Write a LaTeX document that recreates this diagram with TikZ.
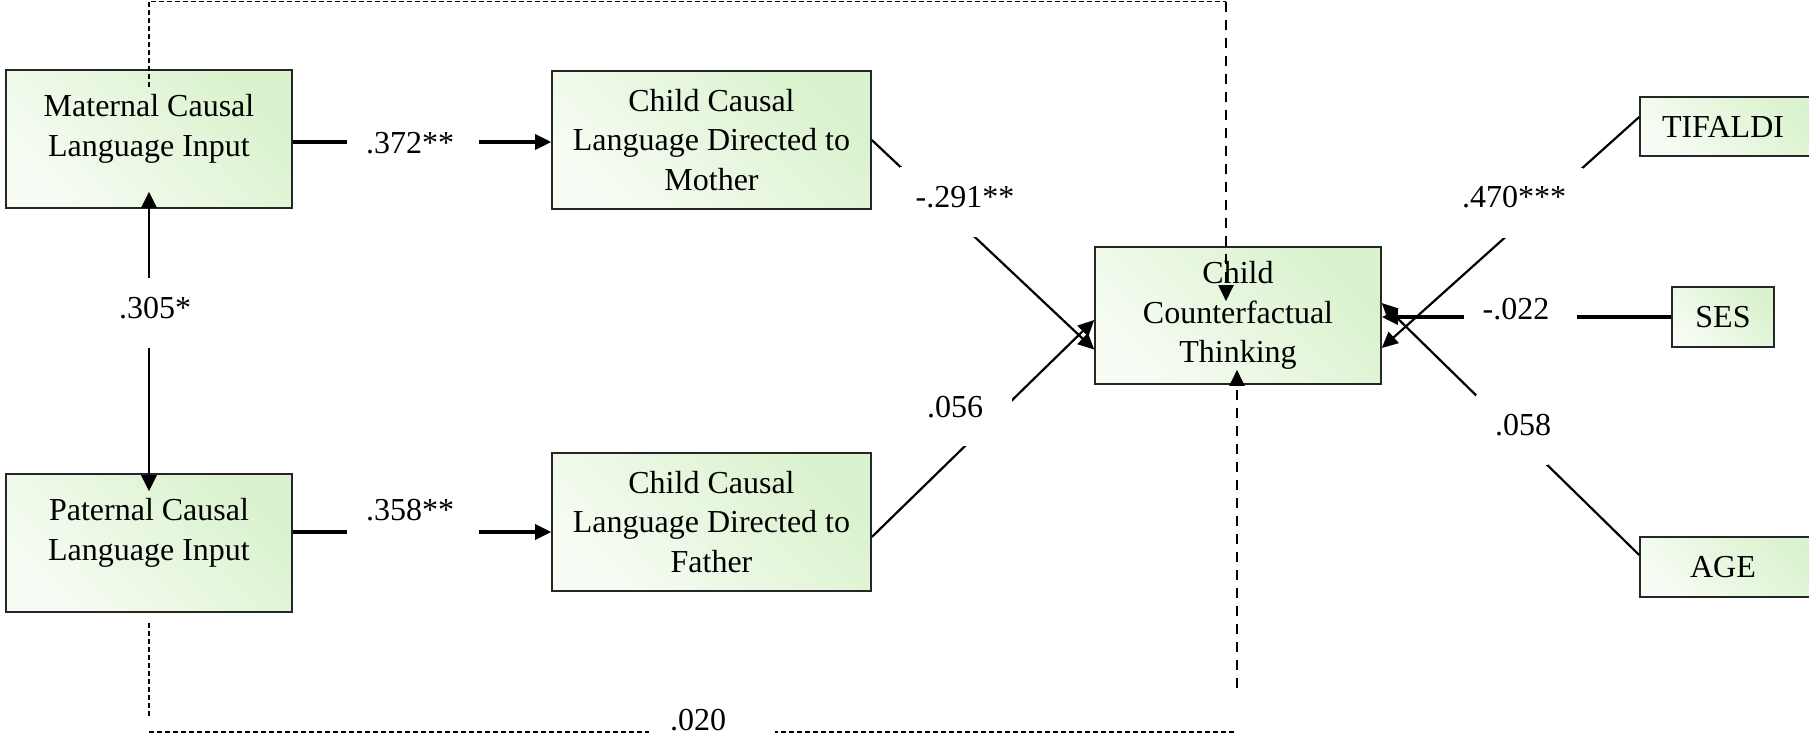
\documentclass[tikz,border=0pt]{standalone}
\usepackage{fontspec}
\setmainfont{Liberation Serif}
\usetikzlibrary{arrows.meta,calc}
\definecolor{gdark}{RGB}{218,242,205}
\definecolor{glight}{RGB}{246,252,243}
\begin{document}
\begin{tikzpicture}[x=0.5pt,y=-0.5pt,
  font=\fontsize{16pt}{19.8pt}\selectfont,
  box/.style={draw=black!85, line width=0.8pt, top color=gdark, bottom color=glight, shading angle=-45, inner sep=0pt, align=center},
  txt/.style={align=center, inner sep=0pt},
  lbl/.style={inner sep=0pt},
  tip/.style={-{Triangle[length=8pt,width=7.5pt]}},
  hconn/.style={tip, line width=1.6pt},
  dconn/.style={tip, line width=1.1pt},
  finedash/.style={line width=0.6pt, dash pattern=on 2.5pt off 1.5pt},
  longdash/.style={line width=1pt, dash pattern=on 5pt off 4pt, -{Triangle[length=8pt,width=7.5pt]}}
]
\useasboundingbox (0,0) rectangle (1809,739);
\clip (0,0) rectangle (1809,739);

% boxes
\node[box, minimum width=143pt, minimum height=69pt] (mat) at (149,139) {};
\node[txt] (matT) at ([yshift=5pt]mat.center) {Maternal Causal\\Language Input};
\node[box, minimum width=143pt, minimum height=69pt] (pat) at (149,543) {};
\node[txt] (patT) at ([yshift=5pt]pat.center) {Paternal Causal\\Language Input};
\node[box, minimum width=159.5pt, minimum height=69pt] (cm) at (711.5,140) {Child Causal\\Language Directed to\\Mother};
\node[box, minimum width=159.5pt, minimum height=69pt] (cfa) at (711.5,522) {Child Causal\\Language Directed to\\Father};
\node[box, minimum width=143pt, minimum height=68.5pt] (cf) at (1238,315.5) {Child\\Counterfactual\\Thinking};
\node[box, minimum width=92pt, minimum height=29.5pt] (tif) at (1732,126.5) {\hspace*{-9pt}TIFALDI};
\node[box, minimum width=51pt, minimum height=30pt] (ses) at (1723,317) {SES};
\node[box, minimum width=92pt, minimum height=30pt] (age) at (1732,567) {\hspace*{-9pt}AGE};

% connectors
\draw[hconn] ([yshift=-1.5pt]mat.east) -- ([yshift=-1.5pt]mat.east -| cm.west);
\coordinate (p1) at ([yshift=5.5pt]pat.east);
\draw[hconn] (p1) -- (p1 -| cfa.west);
\draw[line width=1.4pt, {Triangle[length=8pt,width=7.5pt]}-{Triangle[length=8pt,width=7.5pt]}] ([yshift=8.5pt]mat.south) -- ([yshift=-9pt]pat.north);
\draw[dconn] (cm.east) -- ([yshift=-17pt]cf.west);
\draw[dconn] ([yshift=-7.5pt]cfa.east) -- ([yshift=-2.25pt]cf.west);
\draw[dconn] ([yshift=4.75pt]tif.west) -- ([yshift=-16.25pt]cf.east);
\draw[hconn] (ses.west) -- (ses.west -| cf.east);
\draw[dconn] ([yshift=6pt]age.west) -- ([yshift=6.25pt]cf.east);

% dashed paths
\coordinate (topR) at (1226,1.5);
\draw[finedash] ([yshift=-9pt]mat.north) |- (topR);
\draw[longdash] (topR) -- ([xshift=-6pt,yshift=-27.5pt]cf.north);
\coordinate (botL) at (149,732);
\coordinate (botR) at (1237,732);
\draw[finedash] ([yshift=-5pt]pat.south) -- ([yshift=-52.5pt]pat.south);
\draw[finedash] (botL) -- (botR);
\coordinate (botV) at (1237,688);
\draw[longdash] (botV) -- ([xshift=-0.5pt,yshift=7.5pt]cf.south);

% label gaps and labels
\fill[white] (347,116) rectangle (479,184);
\node[lbl] (l372) at (410,143) {.372**};
\fill[white] (347,490) rectangle (479,555);
\node[lbl] (l358) at (410,510) {.358**};
\fill[white] (105,278) rectangle (200,348);
\node[lbl] (l305) at (155,308) {.305*};
\fill[white] (900,167) rectangle (1012,237);
\node[lbl] (l291) at (965,197) {-.291**};
\fill[white] (920,390) rectangle (1012,446);
\node[lbl] (l056) at (955,407) {.056};
\fill[white] (1460,168) rectangle (1583,238);
\node[lbl] (l470) at (1514,197) {.470***};
\fill[white] (1464,290) rectangle (1577,335);
\node[lbl] (l022) at (1516,309) {-.022};
\fill[white] (1476,395) rectangle (1548,465);
\node[lbl] (l058) at (1523,425) {.058};
\fill[white] (649,705) rectangle (775,739);
\node[lbl] (l020) at (698,720) {.020};
\end{tikzpicture}
\end{document}
